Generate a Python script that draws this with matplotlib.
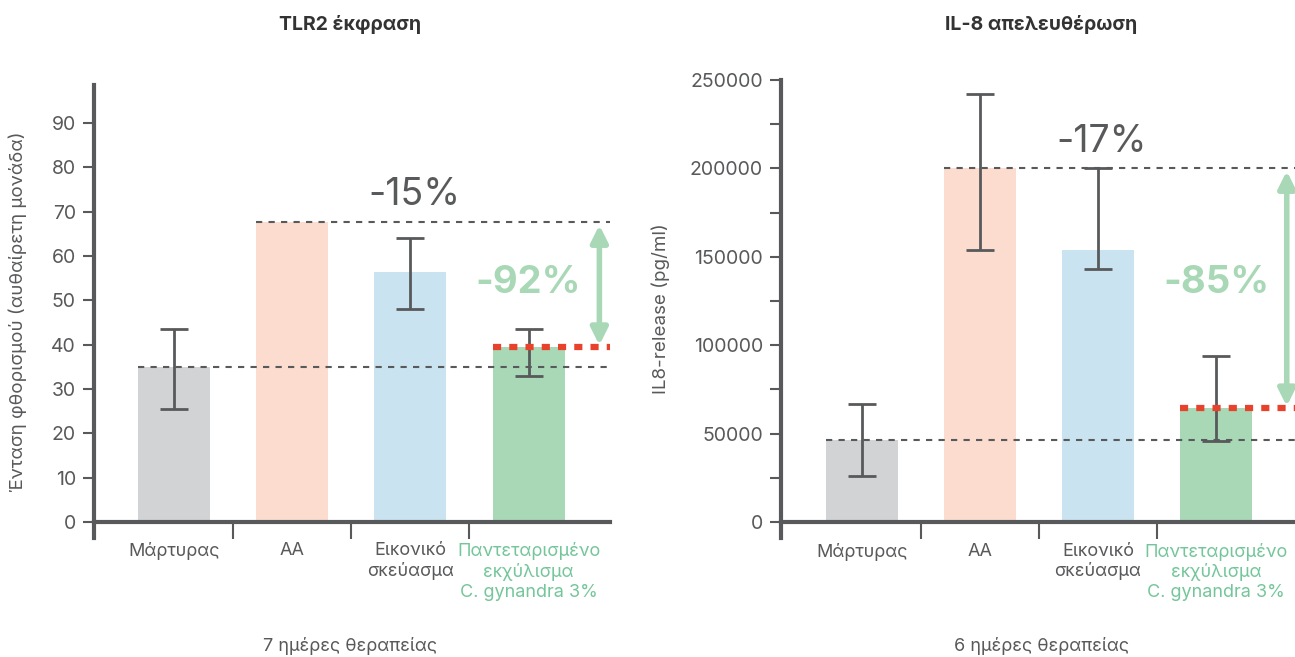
"""Two-panel bar chart: TLR2 expression and IL-8 release."""
import matplotlib.pyplot as plt
from matplotlib.transforms import blended_transform_factory

plt.rcParams["font.family"] = ["Inter", "DejaVu Sans"]

# categories shared by both panels
categories = ["Μάρτυρας", "AA", "Εικονικό\nσκεύασμα",
              "Παντεταρισμένο\nεκχύλισμα\nC. gynandra 3%"]

# left panel: TLR2 expression
tlr2_values = [35, 67.8, 56.3, 39.5]
tlr2_err_low = [25.5, None, 48.0, 33.0]
tlr2_err_high = [43.5, None, 64.0, 43.6]
tlr2_ticks = [0, 10, 20, 30, 40, 50, 60, 70, 80, 90]

# right panel: IL-8 release
il8_values = [46500, 200000, 154000, 64500]
il8_err_low = [26000, 154000, 143000, 46000]
il8_err_high = [67000, 242000, 200000, 94000]
il8_ticks = [0, 50000, 100000, 150000, 200000, 250000]
il8_minor = [25000, 75000, 125000, 175000, 225000]

GREY = "#58595b"
BAR_COLORS = ["#d1d3d4", "#fbdccf", "#cae3f0", "#a8d8b6"]
GREEN_TXT = "#74c69a"
ARROW_GREEN = "#a8d8b6"
RED = "#e8412c"

W, H = 1295, 657
fig = plt.figure(figsize=(W / 100, H / 100), dpi=100)


def px_axes(x0, x1, ytop, ybot):
    return fig.add_axes([x0 / W, 1 - ybot / H, (x1 - x0) / W, (ybot - ytop) / H])


def draw_panel(ax, values, lo, hi, ylim, xlim, ticks, minor, ylabel,
               pct_small, pct_small_y, pct_big, pct_big_y):
    x = list(range(len(values)))
    ax.bar(x, values, width=0.61, color=BAR_COLORS, zorder=1)
    for xi, v, l, h in zip(x, values, lo, hi):
        if l is None:
            continue
        ax.errorbar([xi], [v], yerr=[[v - l], [h - v]], fmt="none", ecolor=GREY,
                    elinewidth=2, capsize=10, capthick=2, zorder=3)

    # reference lines
    ax.hlines(values[1], 1 - 0.305, xlim[1], colors=GREY, linestyles=(0, (3, 3)),
              lw=1.5, zorder=2)
    ax.hlines(values[0], -0.305, xlim[1], colors=GREY, linestyles=(0, (3, 3)),
              lw=1.5, zorder=2)
    ax.hlines(values[3], 3 - 0.305, xlim[1], colors=RED, linestyles=(0, (1.3, 1.3)),
              lw=4.5, zorder=4)

    ax.set_xlim(*xlim)
    ax.set_ylim(*ylim)

    for s in ("top", "right"):
        ax.spines[s].set_visible(False)
    ax.spines["bottom"].set_position(("data", 0))
    ax.spines["bottom"].set_bounds(xlim[0], xlim[1])
    for s in ("left", "bottom"):
        ax.spines[s].set_color(GREY)
        ax.spines[s].set_linewidth(3)

    ax.set_yticks(ticks)
    ax.set_yticklabels([str(t) for t in ticks], fontsize=14, color=GREY)
    if minor:
        ax.set_yticks(minor, minor=True)
    ax.tick_params(axis="y", which="both", length=8, width=1.5, color=GREY, pad=5)

    ax.set_xticks([0.5, 1.5, 2.5])
    ax.set_xticklabels([])
    ax.tick_params(axis="x", length=12, width=1.5, color=GREY, direction="out")

    trans = blended_transform_factory(ax.transData, ax.transAxes)
    y0 = ax.transAxes.inverted().transform(ax.transData.transform((0, 0)))[1]
    for i, c in enumerate(categories):
        ax.text(i, y0 - 0.045, c, transform=trans, ha="center", va="top",
                fontsize=13, color=GREEN_TXT if i == 3 else GREY, linespacing=1.2)

    ax.set_ylabel(ylabel, fontsize=13.5, color=GREY)

    ax.text(2.03, pct_small_y, pct_small, ha="center", va="center", fontsize=27,
            color=GREY)
    ax.text(3.0, pct_big_y, pct_big, ha="center", va="center", fontsize=27.5,
            fontweight="bold", color=ARROW_GREEN)
    return ax


ax1 = px_axes(94, 610, 85, 538)
draw_panel(ax1, tlr2_values, tlr2_err_low, tlr2_err_high, (-3.6, 98.6), (-0.68, 3.69),
           tlr2_ticks, None, "Ένταση φθορισμού (αυθαίρετη μονάδα)",
           "-15%", 73.8, "-92%", 54.0)
ax1.annotate("", xy=(3.6, 39.9), xytext=(3.6, 67.0),
             arrowprops=dict(arrowstyle="<|-|>", color=ARROW_GREEN, lw=4,
                             mutation_scale=25, shrinkA=0, shrinkB=0))
ax1.yaxis.set_label_coords(-0.13, 0.5)

ax2 = px_axes(781, 1295, 80, 538)
draw_panel(ax2, il8_values, il8_err_low, il8_err_high, (-9000, 250000), (-0.686, 3.67),
           il8_ticks, il8_minor, "IL8-release (pg/ml)",
           "-17%", 215000, "-85%", 135000)
ax2.annotate("", xy=(3.6, 65500), xytext=(3.6, 198500),
             arrowprops=dict(arrowstyle="<|-|>", color=ARROW_GREEN, lw=4,
                             mutation_scale=25, shrinkA=0, shrinkB=0))
ax2.yaxis.set_label_coords(-0.215, 0.5)

# titles and footers placed in figure pixels
fig.text(350 / W, 1 - 25 / H, "TLR2 έκφραση", ha="center", va="center",
         fontsize=14, fontweight="bold", color="#333333")
fig.text(1041 / W, 1 - 25 / H, "IL-8 απελευθέρωση", ha="center", va="center",
         fontsize=14, fontweight="bold", color="#333333")
fig.text(350 / W, 1 - 646 / H, "7 ημέρες θεραπείας", ha="center", va="center",
         fontsize=13, color=GREY)
fig.text(1041 / W, 1 - 646 / H, "6 ημέρες θεραπείας", ha="center", va="center",
         fontsize=13, color=GREY)

fig.savefig("out.png", dpi=100)
